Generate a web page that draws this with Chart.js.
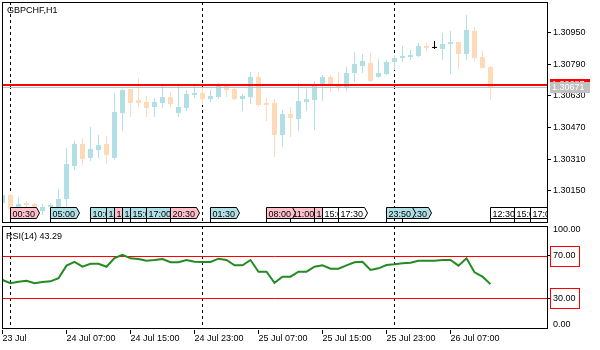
<!DOCTYPE html>
<html>
<head>
<meta charset="utf-8">
<script src="https://cdn.jsdelivr.net/npm/chart.js@4.4.1/dist/chart.umd.min.js"></script>
<style>
  html, body { margin: 0; padding: 0; background: #fff; }
  #wrap { position: relative; width: 600px; height: 350px; }
  #wrap canvas { position: absolute; left: 0; top: 0; }
</style>
</head>
<body>
<div id="wrap">
  <canvas id="priceChart" width="600" height="350"></canvas>
  <canvas id="rsiChart" width="600" height="350"></canvas>
</div>
<script>
// GBPCHF H1 bars, 23 Jul 23:00 .. 26 Jul 12:00
const opens = [1.30088, 1.30128, 1.30068, 1.30088, 1.30083, 1.30047, 1.30068, 1.30068, 1.30108, 1.30275,
  1.30387, 1.30316, 1.30356, 1.30387, 1.30316, 1.30543, 1.30665, 1.30609, 1.30599, 1.30574,
  1.30594, 1.30624, 1.30543, 1.30569, 1.30635, 1.30645, 1.30614, 1.30624, 1.30680, 1.30665,
  1.30614, 1.30624, 1.30726, 1.30594, 1.30594, 1.30432, 1.30538, 1.30513, 1.30599, 1.30609,
  1.30685, 1.30726, 1.30685, 1.30670, 1.30746, 1.30781, 1.30797, 1.30726, 1.30741, 1.30802,
  1.30822, 1.30827, 1.30832, 1.30883, 1.30873, 1.30868, 1.30893, 1.30903, 1.30842, 1.30959,
  1.30827, 1.30776];
const highs = [1.30138, 1.30133, 1.30118, 1.30098, 1.30088, 1.30083, 1.30088, 1.30159, 1.30366, 1.30402,
  1.30417, 1.30473, 1.30432, 1.30427, 1.30645, 1.30665, 1.30665, 1.30721, 1.30630, 1.30619,
  1.30680, 1.30650, 1.30690, 1.30660, 1.30680, 1.30675, 1.30660, 1.30695, 1.30690, 1.30675,
  1.30640, 1.30751, 1.30751, 1.30619, 1.30614, 1.30559, 1.30574, 1.30695, 1.30665, 1.30706,
  1.30736, 1.30736, 1.30751, 1.30776, 1.30852, 1.30842, 1.30847, 1.30817, 1.30812, 1.30837,
  1.30883, 1.30862, 1.30898, 1.30898, 1.30908, 1.30949, 1.30959, 1.30903, 1.31040, 1.30979,
  1.30862, 1.30781];
const lows = [1.30073, 1.30037, 1.30057, 1.30068, 1.30057, 1.30027, 1.30052, 1.30057, 1.30068, 1.30255,
  1.30275, 1.30300, 1.30316, 1.30285, 1.30306, 1.30452, 1.30523, 1.30574, 1.30523, 1.30523,
  1.30569, 1.30574, 1.30523, 1.30554, 1.30619, 1.30584, 1.30599, 1.30614, 1.30624, 1.30609,
  1.30554, 1.30589, 1.30574, 1.30503, 1.30321, 1.30371, 1.30422, 1.30452, 1.30554, 1.30457,
  1.30604, 1.30650, 1.30655, 1.30655, 1.30700, 1.30746, 1.30700, 1.30721, 1.30736, 1.30761,
  1.30802, 1.30812, 1.30827, 1.30857, 1.30868, 1.30812, 1.30741, 1.30766, 1.30812, 1.30807,
  1.30771, 1.30609];
const closes = [1.30128, 1.30057, 1.30083, 1.30078, 1.30068, 1.30068, 1.30078, 1.30108, 1.30285, 1.30387,
  1.30311, 1.30361, 1.30381, 1.30331, 1.30549, 1.30660, 1.30594, 1.30594, 1.30569, 1.30599,
  1.30624, 1.30589, 1.30574, 1.30640, 1.30645, 1.30614, 1.30630, 1.30680, 1.30660, 1.30614,
  1.30630, 1.30726, 1.30584, 1.30584, 1.30432, 1.30538, 1.30518, 1.30604, 1.30614, 1.30690,
  1.30726, 1.30680, 1.30675, 1.30746, 1.30792, 1.30807, 1.30706, 1.30746, 1.30802, 1.30822,
  1.30832, 1.30837, 1.30883, 1.30873, 1.30873, 1.30893, 1.30903, 1.30842, 1.30964, 1.30822,
  1.30771, 1.30671];

const rsiValues = [47.2, 44.1, 45.6, 46.5, 44.1, 45.3, 45.9, 48.8, 60.7, 64.2,
  59.7, 62.5, 62.5, 59.7, 67.9, 71.0, 67.6, 67.0, 65.4, 66.0,
  67.0, 63.9, 63.9, 66.0, 64.4, 64.2, 64.2, 67.3, 66.0, 61.0,
  61.0, 66.0, 55.0, 55.0, 44.6, 50.3, 50.3, 55.0, 55.0, 59.7,
  61.0, 57.8, 57.8, 61.0, 63.9, 64.4, 56.6, 58.2, 61.3, 62.0,
  62.9, 63.5, 65.4, 65.4, 65.4, 66.0, 66.0, 60.7, 67.6, 54.4,
  50.3, 43.29];
const rsiLevels = [70, 30];
const rsiTicks = [100, 70, 30, 0];

const priceTicks = [1.30150, 1.30310, 1.30470, 1.30630, 1.30790, 1.30950];
const bid = 1.30671;
const ask = 1.30687;

const timeTickIdx = [0, 8, 16, 24, 32, 40, 48, 56];
const timeLabels = ['23 Jul', '24 Jul 07:00', '24 Jul 15:00', '24 Jul 23:00',
  '25 Jul 07:00', '25 Jul 15:00', '25 Jul 23:00', '26 Jul 07:00'];
const daySeparators = [1, 25, 49];

// calendar events, listed in drawing order
const eventIdx = [1, 6, 11, 13, 14, 15, 16, 18, 21, 26, 36, 33, 39, 40, 42, 50, 48, 61, 64, 66];
const eventTimes = ['00:30', '05:00', '10:00', '12:00', '13:00', '14:30', '15:00', '17:00', '20:30', '01:30',
  '11:00', '08:00', '14:30', '15:00', '17:30', '01:30', '23:50', '12:30', '15:00', '17:00'];
const eventLevel = ['high', 'medium', 'medium', 'medium', 'high', 'medium', 'medium', 'medium', 'high', 'medium',
  'high', 'high', 'high', 'low', 'low', 'medium', 'medium', 'low', 'low', 'low'];

const UP = 'rgb(176,224,230)';
const DOWN = 'rgb(255,218,185)';
const eventFill = { high: 'rgb(255,192,203)', medium: 'rgb(176,224,230)', low: '#fff' };
const FONT = "'Liberation Sans', Arial, sans-serif";

// x range shared by both panels: 8 px per bar, plot 2..547
const X_MIN = -0.0625;
const X_MAX = 68.0625;
const PRICE_MIN = 1.299866;
const PRICE_MAX = 1.311055;

Chart.defaults.font.family = FONT;
Chart.defaults.font.size = 9;
Chart.defaults.color = '#000';

function candleColor(i) {
  if (closes[i] > opens[i]) return UP;
  if (closes[i] < opens[i]) return DOWN;
  return '#000';
}

const barIdx = opens.map((_, i) => i);

// keep the plot area where the layout padding puts it
function fixWidth(s) {
  s.width = 53;
  s.paddingTop = 0;
  s.paddingBottom = 0;
}

function drawSeparators(ctx, x, top, bottom) {
  ctx.save();
  ctx.strokeStyle = '#000';
  ctx.lineWidth = 1;
  ctx.setLineDash([3, 3]);
  daySeparators.forEach(i => {
    const px = x.getPixelForValue(i);
    ctx.beginPath();
    ctx.moveTo(px, top);
    ctx.lineTo(px, bottom);
    ctx.stroke();
  });
  ctx.restore();
}

const priceDecor = {
  id: 'priceDecor',
  beforeDatasetsDraw(chart) {
    const { ctx, chartArea: a, scales: { x } } = chart;
    drawSeparators(ctx, x, a.top, a.bottom);
  },
  afterDraw(chart) {
    const { ctx, chartArea: a, scales: { x, y } } = chart;
    ctx.save();
    ctx.beginPath();
    ctx.rect(a.left + 1, a.top, a.right - a.left - 1, a.bottom - a.top);
    ctx.clip();

    // ask and bid lines
    const yAsk = Math.round(y.getPixelForValue(ask));
    const yBid = Math.floor(y.getPixelForValue(bid)) + 0.5;
    ctx.strokeStyle = '#f00';
    ctx.lineWidth = 2;
    ctx.beginPath(); ctx.moveTo(a.left, yAsk); ctx.lineTo(a.right, yAsk); ctx.stroke();
    ctx.strokeStyle = '#c0c0c0';
    ctx.lineWidth = 1;
    ctx.beginPath(); ctx.moveTo(a.left, yBid); ctx.lineTo(a.right, yBid); ctx.stroke();

    // calendar event flags along the bottom
    ctx.font = '9px ' + FONT;
    ctx.strokeStyle = '#000';
    const top = a.bottom - 15.5, bot = a.bottom - 4.5;
    eventIdx.forEach((k, n) => {
      const left = x.getPixelForValue(k);
      const w = Math.ceil(ctx.measureText(eventTimes[n]).width) + 3;
      ctx.beginPath();
      ctx.moveTo(left, bot);
      ctx.lineTo(left, top);
      ctx.lineTo(left + w, top);
      ctx.lineTo(left + w + 3, (top + bot) / 2);
      ctx.lineTo(left + w, bot);
      ctx.closePath();
      ctx.fillStyle = eventFill[eventLevel[n]];
      ctx.fill();
      ctx.stroke();
      ctx.fillStyle = '#000';
      ctx.fillText(eventTimes[n], left + 2, bot - 2);
      ctx.beginPath();
      ctx.moveTo(left, bot);
      ctx.lineTo(left, a.bottom);
      ctx.stroke();
    });
    ctx.restore();

    ctx.save();
    ctx.strokeStyle = '#000';
    ctx.lineWidth = 1;
    ctx.strokeRect(a.left + 0.5, a.top + 0.5, a.right - a.left, a.bottom - a.top - 1);

    // price labels for ask / bid
    ctx.font = '9px ' + FONT;
    [[ask, '#f00', yAsk], [bid, '#c0c0c0', yBid]].forEach(([v, c, py]) => {
      ctx.fillStyle = c;
      ctx.fillRect(a.right + 3, Math.round(py) - 6, 40, 11);
      ctx.fillStyle = '#fff';
      ctx.textBaseline = 'middle';
      ctx.fillText(v.toFixed(5), a.right + 5, Math.round(py));
    });

    ctx.fillStyle = '#000';
    ctx.textBaseline = 'alphabetic';
    ctx.fillText('GBPCHF,H1', 7, 13);
    ctx.restore();
  }
};

new Chart(document.getElementById('priceChart'), {
  type: 'bar',
  data: {
    datasets: [
      {
        label: 'wick',
        data: barIdx.map(i => ({ x: i, y: [lows[i], highs[i]] })),
        backgroundColor: ctx => candleColor(ctx.dataIndex),
        barThickness: 1,
        grouped: false,
        inflateAmount: 0,
        order: 2
      },
      {
        label: 'body',
        data: barIdx.map(i => ({ x: i, y: [opens[i], closes[i]] })),
        backgroundColor: ctx => candleColor(ctx.dataIndex),
        barThickness: 5,
        minBarLength: 1,
        grouped: false,
        inflateAmount: 0,
        order: 1
      }
    ]
  },
  options: {
    responsive: false,
    animation: false,
    devicePixelRatio: 1,
    layout: { padding: { left: 2, top: 2, right: 0, bottom: 127 } },
    plugins: { legend: { display: false }, tooltip: { enabled: false } },
    scales: {
      x: { type: 'linear', min: X_MIN, max: X_MAX, offset: false, display: false },
      y: {
        position: 'right',
        min: PRICE_MIN,
        max: PRICE_MAX,
        afterBuildTicks: s => { s.ticks = priceTicks.map(v => ({ value: v })); },
        afterFit: fixWidth,
        ticks: { callback: v => v.toFixed(5), padding: 2, autoSkip: false },
        grid: { drawOnChartArea: false, tickLength: 4, color: '#000' },
        border: { display: false }
      }
    }
  },
  plugins: [priceDecor]
});

const rsiDecor = {
  id: 'rsiDecor',
  beforeDatasetsDraw(chart) {
    const { ctx, chartArea: a, scales: { x, y } } = chart;
    drawSeparators(ctx, x, 226, 328);
    ctx.save();
    ctx.strokeStyle = '#f00';
    ctx.lineWidth = 1;
    rsiLevels.forEach(l => {
      const py = Math.round(y.getPixelForValue(l)) + 0.5;
      ctx.beginPath(); ctx.moveTo(a.left, py); ctx.lineTo(a.right, py); ctx.stroke();
    });
    ctx.restore();
  },
  afterDraw(chart) {
    const { ctx, chartArea: a, scales: { y } } = chart;
    ctx.save();
    ctx.strokeStyle = '#000';
    ctx.lineWidth = 1;
    ctx.strokeRect(a.left + 0.5, 226.5, a.right - a.left, 102);
    ctx.strokeStyle = '#f00';
    rsiLevels.forEach(l => {
      const py = Math.round(y.getPixelForValue(l)) + 0.5;
      ctx.strokeRect(a.right + 3.5, py - 10, 29, 20);
    });
    ctx.fillStyle = '#000';
    ctx.font = '9px ' + FONT;
    ctx.fillText('RSI(14) ' + rsiValues[rsiValues.length - 1].toFixed(2), 6, 238.5);
    ctx.restore();
  }
};

new Chart(document.getElementById('rsiChart'), {
  type: 'line',
  data: {
    datasets: [{
      label: 'RSI(14)',
      data: rsiValues.map((v, i) => ({ x: i, y: v })),
      borderColor: 'rgb(34,139,34)',
      borderWidth: 2,
      pointRadius: 0,
      tension: 0
    }]
  },
  options: {
    responsive: false,
    animation: false,
    devicePixelRatio: 1,
    layout: { padding: { left: 2, top: 224, right: 0, bottom: 0 } },
    plugins: { legend: { display: false }, tooltip: { enabled: false } },
    scales: {
      x: {
        type: 'linear',
        min: X_MIN,
        max: X_MAX,
        afterBuildTicks: s => { s.ticks = timeTickIdx.map(v => ({ value: v })); },
        afterFit: s => { s.height = 20; s.paddingLeft = 0; s.paddingRight = 0; },
        ticks: { callback: (v, i) => timeLabels[i], align: 'start', padding: -1, maxRotation: 0, autoSkip: false },
        grid: { drawOnChartArea: false, tickLength: 4, color: '#000' },
        border: { display: false }
      },
      y: {
        position: 'right',
        min: 0,
        max: 100,
        afterBuildTicks: s => { s.ticks = rsiTicks.map(v => ({ value: v })); },
        afterFit: fixWidth,
        ticks: {
          callback: v => v === 100 ? ['', '100.00'] : v === 0 ? ['0.00', ''] : v.toFixed(2),
          padding: 2,
          autoSkip: false
        },
        grid: {
          drawOnChartArea: false,
          tickLength: 4,
          tickColor: c => rsiLevels.includes(c.tick.value) ? '#000' : 'rgba(0,0,0,0)'
        },
        border: { display: false }
      }
    }
  },
  plugins: [rsiDecor]
});
</script>
</body>
</html>
